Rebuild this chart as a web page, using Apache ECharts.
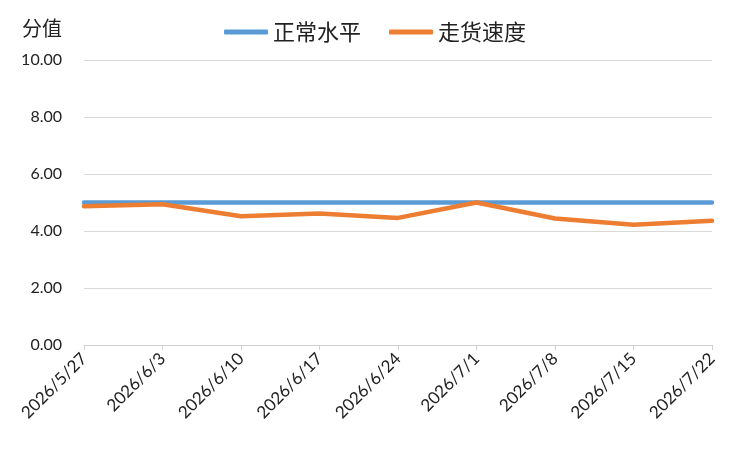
<!DOCTYPE html>
<html><head><meta charset="utf-8">
<script src="https://cdn.jsdelivr.net/npm/echarts@6/dist/echarts.min.js"></script>
<style>html,body{margin:0;padding:0;background:#fff}#c{width:750px;height:450px}</style>
</head><body><div id="c"></div>
<script>
const categories = ["2026/5/27","2026/6/3","2026/6/10","2026/6/17","2026/6/24","2026/7/1","2026/7/8","2026/7/15","2026/7/22"];
const normalLevel = [5, 5, 5, 5, 5, 5, 5, 5, 5];
const shippingSpeed = [4.87, 4.94, 4.52, 4.61, 4.46, 5.0, 4.44, 4.22, 4.36];
const seriesNames = ["正常水平", "走货速度"];

const chart = echarts.init(document.getElementById('c'));
const font = '"Noto Sans CJK SC", "Microsoft YaHei", sans-serif';
const latin = 'Lato, "Open Sans", sans-serif';
chart.setOption({
  animation: false,
  color: ['#5B9BD5', '#ED7D31'],
  legend: {
    top: 16, left: 'center',
    itemWidth: 44, itemHeight: 5, itemGap: 28,
    icon: 'roundRect',
    textStyle: {fontSize: 22, color: '#222', fontFamily: font},
    data: seriesNames
  },
  grid: {left: 84, right: 38, top: 60, bottom: 105},
  xAxis: {
    type: 'category', boundaryGap: false, data: categories,
    axisLine: {lineStyle: {color: '#d0d0d0', width: 1}},
    axisTick: {show: true, alignWithLabel: true, length: 5, lineStyle: {color: '#d0d0d0'}},
    axisLabel: {rotate: 45, fontSize: 17, color: '#222', fontFamily: latin, margin: 11, interval: 0}
  },
  yAxis: {
    type: 'value', min: 0, max: 10, interval: 2,
    name: '分值', nameLocation: 'end', nameGap: 22,
    nameTextStyle: {fontSize: 20, color: '#222', fontFamily: font, align: 'right', padding: [0, 22, 0, 0]},
    axisLine: {show: false}, axisTick: {show: false},
    axisLabel: {fontSize: 16, color: '#222', fontFamily: latin, margin: 22,
      formatter: v => v.toFixed(2)},
    splitLine: {lineStyle: {color: '#d9d9d9', width: 1}}
  },
  series: [
    {name: seriesNames[0], type: 'line', data: normalLevel, symbol: 'none',
     lineStyle: {width: 4.5, cap: 'round'}},
    {name: seriesNames[1], type: 'line', data: shippingSpeed, symbol: 'none',
     lineStyle: {width: 4.5, cap: 'round', join: 'round'}}
  ]
});
</script></body></html>
